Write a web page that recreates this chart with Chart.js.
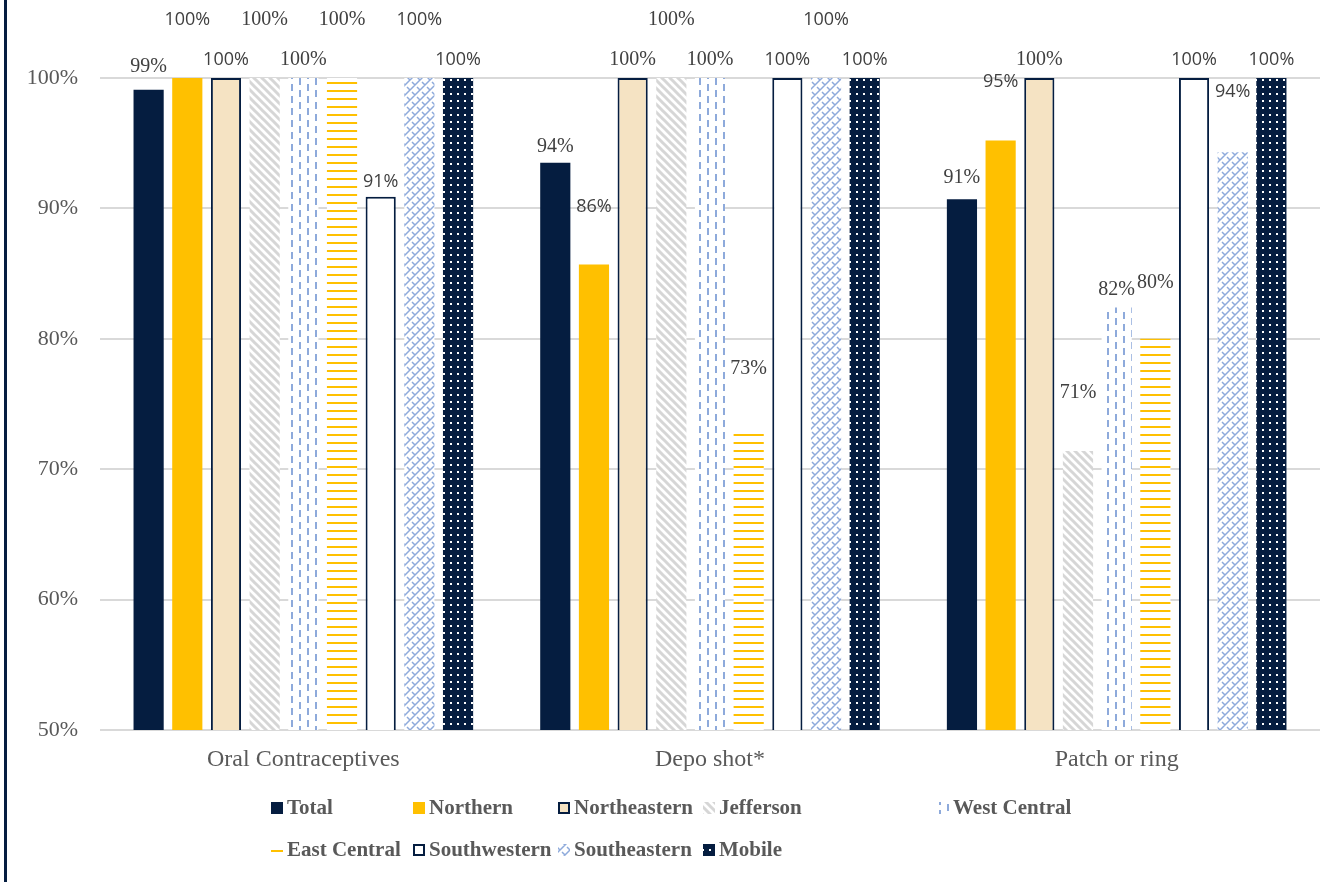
<!DOCTYPE html>
<html>
<head>
<meta charset="utf-8">
<script src="https://cdn.jsdelivr.net/npm/chart.js@4.4.1/dist/chart.umd.min.js"></script>
<style>
  html, body { margin: 0; padding: 0; background: #fff; }
  #wrap { width: 1323px; height: 882px; }
</style>
</head>
<body>
<div id="wrap"><canvas id="methodsChart" width="1323" height="882"></canvas></div>
<script>
// Datos del gráfico
const categories = ['Oral Contraceptives', 'Depo shot*', 'Patch or ring'];
const seriesNames = ['Total', 'Northern', 'Northeastern', 'Jefferson', 'West Central',
                     'East Central', 'Southwestern', 'Southeastern', 'Mobile'];
const total        = [99.1, 93.5, 90.7];
const northern     = [100, 85.7, 95.2];
const northeastern = [100, 100, 100];
const jefferson    = [100, 100, 71.4];
const westCentral  = [100, 100, 82.4];
const eastCentral  = [100, 73.0, 80.0];
const southwestern = [90.9, 100, 100];
const southeastern = [100, 100, 94.3];
const mobile       = [100, 100, 100];
const yTicks = [50, 60, 70, 80, 90, 100];

const seriesValues = [total, northern, northeastern, jefferson, westCentral,
                      eastCentral, southwestern, southeastern, mobile];

// Colores
const NAVY = '#051d40';
const GOLD = '#ffc000';
const BEIGE = '#f5e3c3';
const GRAY = '#d6d6d6';
const BLUE = '#8eaadb';

// Patrones (tramas) para las barras
function makePattern(w, h, draw) {
    const c = document.createElement('canvas');
    c.width = w; c.height = h;
    const g = c.getContext('2d');
    draw(g, w, h);
    return document.getElementById('methodsChart').getContext('2d').createPattern(c, 'repeat');
}

const patJefferson = makePattern(8, 8, (g, w, h) => {
    g.fillStyle = '#fff'; g.fillRect(0, 0, w, h);
    g.strokeStyle = GRAY; g.lineWidth = 3;
    g.beginPath();
    g.moveTo(-2, -2); g.lineTo(10, 10);
    g.moveTo(-10, -2); g.lineTo(2, 10);
    g.moveTo(6, -2); g.lineTo(18, 10);
    g.stroke();
});
const patWestCentral = makePattern(16, 12, (g, w, h) => {
    g.fillStyle = '#fff'; g.fillRect(0, 0, w, h);
    g.fillStyle = BLUE;
    g.fillRect(3, 0, 2, 7);
    g.fillRect(11, 6, 2, 6);
    g.fillRect(11, 0, 2, 1);
});
const patEastCentral = makePattern(8, 8, (g, w, h) => {
    g.fillStyle = '#fff'; g.fillRect(0, 0, w, h);
    g.fillStyle = GOLD;
    g.fillRect(0, 2, 8, 2);
});
const patSoutheastern = makePattern(10, 10, (g, w, h) => {
    g.fillStyle = '#fff'; g.fillRect(0, 0, w, h);
    g.strokeStyle = BLUE; g.lineWidth = 1.5;
    g.beginPath();
    g.moveTo(0, 10); g.lineTo(10, 0);
    g.moveTo(-5, 5); g.lineTo(5, -5);
    g.moveTo(5, 15); g.lineTo(15, 5);
    g.moveTo(2, 2); g.lineTo(5, 5);
    g.moveTo(7, 7); g.lineTo(10, 10);
    g.stroke();
});
const patMobile = makePattern(7, 7, (g, w, h) => {
    g.fillStyle = NAVY; g.fillRect(0, 0, w, h);
    g.fillStyle = '#fff';
    g.fillRect(2, 2, 2, 2);
});

const fills   = [NAVY, GOLD, BEIGE, patJefferson, patWestCentral, patEastCentral, '#fff', patSoutheastern, patMobile];
const borders = [NAVY, GOLD, NAVY, '#fff', '#fff', '#fff', NAVY, '#fff', NAVY];
const borderW = [0, 0, 2, 0, 0, 0, 2, 0, 0];

// Ajustes de las etiquetas: altura sobre la barra y tipo de letra (r = serif, s = sans)
const labelLift = [
    [23, 16, 22], [58, 58, 59], [18, 18, 18], [58, 58, 58], [18, 18, 18],
    [58, 61, 56], [15, 18, 18], [58, 58, 60], [18, 18, 18]
];
const labelFont = [
    ['r', 'r', 'r'], ['s', 's', 's'], ['s', 'r', 'r'], ['r', 'r', 'r'], ['r', 'r', 'r'],
    ['r', 'r', 'r'], ['s', 's', 's'], ['s', 's', 's'], ['s', 's', 's']
];

// Plugin: línea izquierda del marco
const framePlugin = {
    id: 'frame',
    beforeDraw(chart) {
        const ctx = chart.ctx;
        ctx.save();
        ctx.fillStyle = '#fff';
        ctx.fillRect(0, 0, chart.width, chart.height);
        ctx.fillStyle = NAVY;
        ctx.fillRect(4, 0, 3, chart.height);
        ctx.restore();
    }
};

// Plugin: etiquetas de datos
const labelsPlugin = {
    id: 'barLabels',
    afterDatasetsDraw(chart) {
        const ctx = chart.ctx;
        ctx.save();
        ctx.textAlign = 'center';
        ctx.textBaseline = 'middle';
        ctx.fillStyle = '#404040';
        chart.data.datasets.forEach((ds, i) => {
            chart.getDatasetMeta(i).data.forEach((bar, j) => {
                const v = ds.data[j];
                ctx.font = labelFont[i][j] === 'r' ? '20px "Liberation Serif"' : '18px "Open Sans"';
                ctx.fillText(Math.round(v) + '%', bar.x, bar.y - labelLift[i][j]);
            });
        });
        ctx.restore();
    }
};

// Plugin: leyenda dibujada a mano
const legendPlugin = {
    id: 'customLegend',
    afterDraw(chart) {
        const ctx = chart.ctx;
        const rows = [
            { y: 808, items: [[0, 271], [1, 413], [2, 558], [3, 703], [4, 937]] },
            { y: 850, items: [[5, 271], [6, 413], [7, 558], [8, 703]] }
        ];
        ctx.save();
        ctx.font = 'bold 21px "Liberation Serif"';
        ctx.textBaseline = 'middle';
        ctx.textAlign = 'left';
        rows.forEach(row => {
            row.items.forEach(([i, x]) => {
                const s = 12;
                const top = row.y - s / 2;
                ctx.fillStyle = fills[i];
                ctx.fillRect(x, top, s, s);
                if (borderW[i] > 0) {
                    ctx.strokeStyle = NAVY;
                    ctx.lineWidth = 2;
                    ctx.strokeRect(x + 1, top + 1, s - 2, s - 2);
                }
                ctx.fillStyle = '#595959';
                ctx.fillText(seriesNames[i], x + 16, row.y + 1);
            });
        });
        ctx.restore();
    }
};

const ctx = document.getElementById('methodsChart').getContext('2d');
new Chart(ctx, {
    type: 'bar',
    data: {
        labels: categories,
        datasets: seriesNames.map((name, i) => ({
            label: name,
            data: seriesValues[i],
            backgroundColor: fills[i],
            borderColor: borders[i],
            borderWidth: borderW[i],
            categoryPercentage: 0.856,
            barPercentage: 0.78
        }))
    },
    options: {
        responsive: false,
        animation: false,
        layout: { padding: { top: 78, right: 3, left: 0, bottom: 0 } },
        plugins: {
            legend: { display: false },
            tooltip: { enabled: false }
        },
        scales: {
            x: {
                grid: { display: false, drawTicks: false },
                border: { display: false },
                ticks: {
                    color: '#595959',
                    font: { family: 'Liberation Serif', size: 24 },
                    padding: 15
                },
                afterFit(scale) { scale.height = 152; }
            },
            y: {
                min: 50,
                max: 100,
                afterBuildTicks(scale) { scale.ticks = yTicks.map(v => ({ value: v })); },
                grid: { color: '#d9d9d9', lineWidth: 2, drawTicks: false },
                border: { display: false },
                ticks: {
                    color: '#595959',
                    font: { family: 'Liberation Serif', size: 22 },
                    padding: 22,
                    callback: v => v + '%'
                },
                afterFit(scale) { scale.width = 100; }
            }
        }
    },
    plugins: [framePlugin, labelsPlugin, legendPlugin]
});
</script>
</body>
</html>
